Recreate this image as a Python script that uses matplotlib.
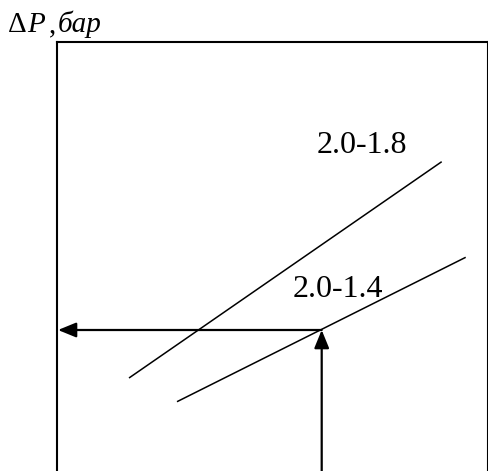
import matplotlib
matplotlib.use("Agg")
import matplotlib.pyplot as plt

# Data (arbitrary units)
curve_labels = ['2.0-1.8', '2.0-1.4']
curve1_x = [72.0, 384.7]
curve1_y = [93.0, 309.3]
curve2_x = [120.0, 408.7]
curve2_y = [69.3, 213.7]
op_x = 264.7
op_dp = 141.0
label_x = [305.0, 281.0]
label_y = [317.7, 173.7]

# y-axis title, drawn in parts (upright / italic) like an equation
title_parts = ['\u0394', 'P', ',', '\u0431\u0430\u0440']
title_italic = [False, True, False, True]
title_px = [8, 27, 49, 58]

W, H = 489, 471
fig = plt.figure(figsize=(W / 100, H / 100), dpi=100)
ax = fig.add_axes([57 / W, 0.0, (488 - 57) / W, (471 - 42) / H])
ax.set_xlim(0, 431)
ax.set_ylim(0, 429)
ax.set_xticks([])
ax.set_yticks([])
for s in ['left', 'top', 'right']:
    ax.spines[s].set_linewidth(1.5)
ax.spines['bottom'].set_visible(False)

ax.plot(curve1_x, curve1_y, color='black', lw=1.1, solid_capstyle='butt')
ax.plot(curve2_x, curve2_y, color='black', lw=1.1, solid_capstyle='butt')

arrow_style = '-|>,head_length=1.1,head_width=0.45'
ax.annotate('', xy=(op_x, op_dp), xytext=(op_x, -5),
            arrowprops=dict(arrowstyle=arrow_style, lw=1.6, color='black',
                            mutation_scale=10, shrinkA=0, shrinkB=0),
            annotation_clip=False)
ax.annotate('', xy=(1, op_dp), xytext=(op_x, op_dp),
            arrowprops=dict(arrowstyle=arrow_style, lw=1.6, color='black',
                            mutation_scale=10, shrinkA=0, shrinkB=0))

for lbl, lx, ly in zip(curve_labels, label_x, label_y):
    ax.text(lx, ly, lbl, ha='center', va='baseline', fontsize=23,
            family='Liberation Serif')

base = 1 - 32 / H
for ch, it, px in zip(title_parts, title_italic, title_px):
    fig.text(px / W, base, ch, fontsize=21, family='Liberation Serif',
             style='italic' if it else 'normal', ha='left', va='baseline')

fig.savefig('out.png', dpi=100)
